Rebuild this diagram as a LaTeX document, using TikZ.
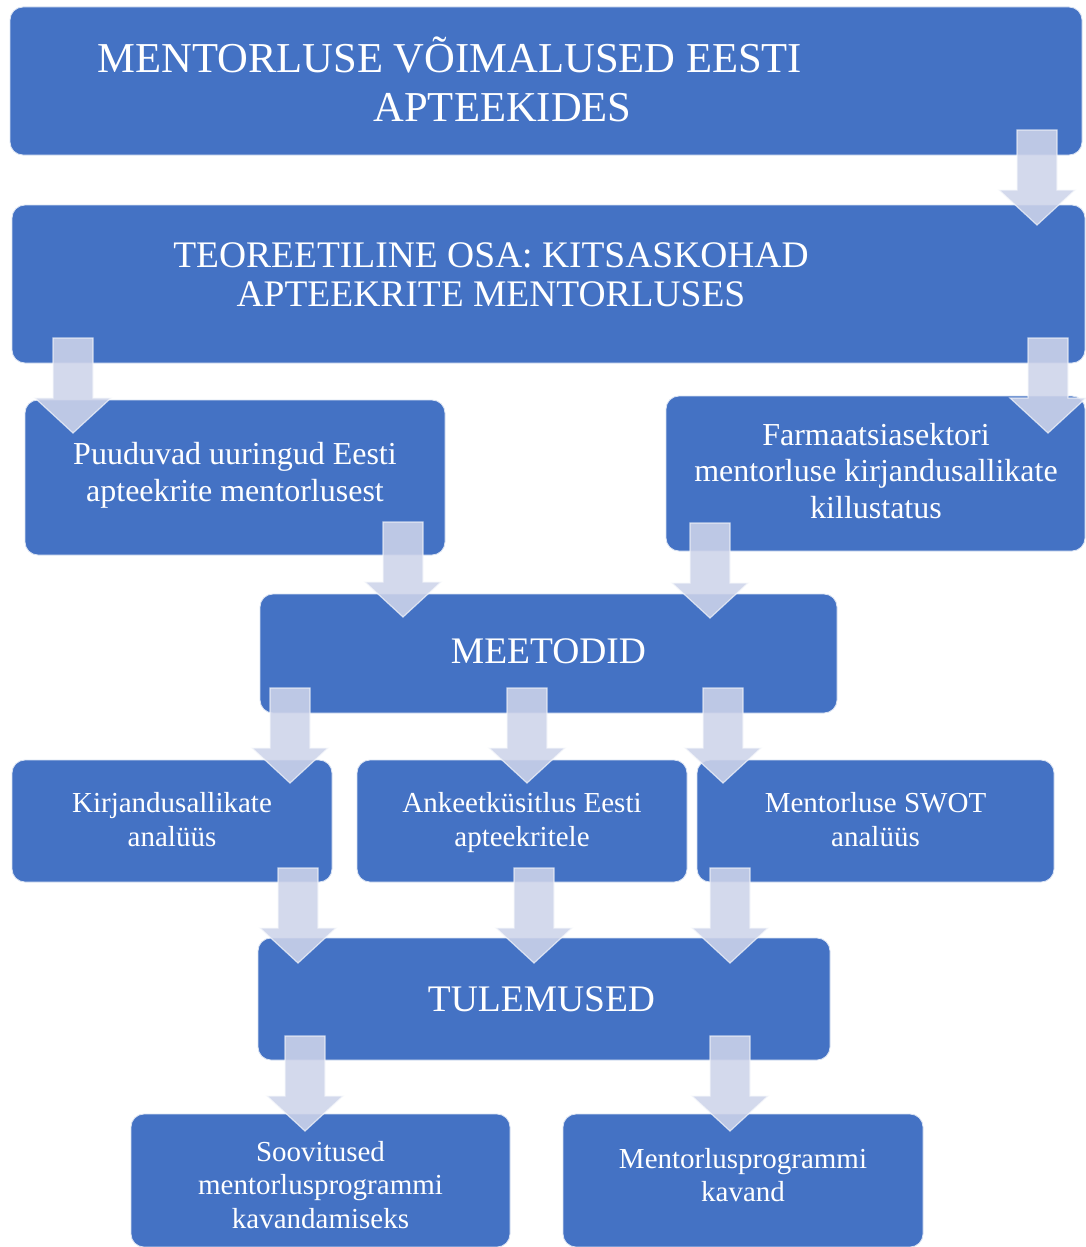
\documentclass[tikz,border=0pt]{standalone}
\usepackage{fontspec}
\setmainfont{Liberation Serif}
\definecolor{boxblue}{RGB}{68,114,196}
\definecolor{arrowfill}{RGB}{206,212,234}
\newcommand{\boxlines}[1]{\begin{tabular}[t]{@{}c@{}}#1\end{tabular}}
\tikzset{
  blk/.style={draw=white!80!boxblue, line width=0.8pt, fill=boxblue, rounded corners=13pt, inner sep=0pt, outer sep=0pt},
  txt/.style={text=white, inner sep=0pt, anchor=base},
  arrowstyle/.style={fill=arrowfill, fill opacity=0.88, draw=white!85!arrowfill, draw opacity=0.7, line width=1.2pt},
  darrow/.pic={\path[arrowstyle] (-20,0) -- (20,0) -- (20,60) -- (38,60) -- (0,95) -- (-38,60) -- (-20,60) -- cycle;}
}
\begin{document}
\begin{tikzpicture}[x=1pt,y=-1pt]
\useasboundingbox (0,0) rectangle (1086,1247);
\fill[white] (0,0) rectangle (1086,1247);
% boxes
\node[blk, minimum width=1072pt, minimum height=148pt] (b1) at (546,81) {};
\node[blk, minimum width=1073pt, minimum height=158pt] (b2) at (548.5,284) {};
\node[blk, minimum width=420pt, minimum height=155pt] (b3) at (235,477.5) {};
\node[blk, minimum width=419pt, minimum height=155pt] (b4) at (875.5,473.5) {};
\node[blk, minimum width=577pt, minimum height=119pt] (b5) at (548.5,653.5) {};
\node[blk, minimum width=320pt, minimum height=122pt] (b6) at (172,821) {};
\node[blk, minimum width=330pt, minimum height=122pt] (b7) at (522,821) {};
\node[blk, minimum width=357pt, minimum height=122pt] (b8) at (875.5,821) {};
\node[blk, minimum width=572pt, minimum height=122pt] (b9) at (544,999) {};
\node[blk, minimum width=379pt, minimum height=133pt] (b10) at (320.5,1180.5) {};
\node[blk, minimum width=360pt, minimum height=133pt] (b11) at (743,1180.5) {};
% texts
\node[txt, font=\fontsize{42.6}{49}\selectfont] (t1a) at (450,72) {MENTORLUSE VÕIMALUSED EESTI};
\node[txt, font=\fontsize{42.6}{49}\selectfont] (t1b) at (502.5,121) {APTEEKIDES};
\node[txt, font=\fontsize{37.5}{39}\selectfont] (t2) at (491,267) {\boxlines{TEOREETILINE OSA: KITSASKOHAD\\APTEEKRITE MENTORLUSES}};
\node[txt, font=\fontsize{32}{37}\selectfont] (t3) at (235,464) {\boxlines{Puuduvad uuringud Eesti\\apteekrite mentorlusest}};
\node[txt, font=\fontsize{32}{36.5}\selectfont] (t4) at (876,445) {\boxlines{Farmaatsiasektori\\mentorluse kirjandusallikate\\killustatus}};
\node[txt, font=\fontsize{37.5}{43}\selectfont] (t5) at (548.5,663) {MEETODID};
\node[txt, font=\fontsize{29}{34}\selectfont] (t6) at (172,812) {\boxlines{Kirjandusallikate\\analüüs}};
\node[txt, font=\fontsize{29}{34}\selectfont] (t7) at (522,812) {\boxlines{Ankeetküsitlus Eesti\\apteekritele}};
\node[txt, font=\fontsize{29}{34}\selectfont] (t8) at (875.5,812) {\boxlines{Mentorluse SWOT\\analüüs}};
\node[txt, font=\fontsize{37.5}{43}\selectfont] (t9) at (541.5,1011) {TULEMUSED};
\node[txt, font=\fontsize{29}{33.5}\selectfont] (t10) at (320.5,1161) {\boxlines{Soovitused\\mentorlusprogrammi\\kavandamiseks}};
\node[txt, font=\fontsize{29}{33.5}\selectfont] (t11) at (743,1168) {\boxlines{Mentorlusprogrammi\\kavand}};
% block arrows
\pic (a1) at (1037,130) {darrow};
\pic (a2) at (73,338) {darrow};
\pic (a3) at (1048,338) {darrow};
\pic (a4) at (403,522) {darrow};
\pic (a5) at (710,523) {darrow};
\pic (a6) at (290,688) {darrow};
\pic (a7) at (527,688) {darrow};
\pic (a8) at (723,688) {darrow};
\pic (a9) at (298,868) {darrow};
\pic (a10) at (534,868) {darrow};
\pic (a11) at (730,868) {darrow};
\pic (a12) at (305,1036) {darrow};
\pic (a13) at (730,1036) {darrow};
\end{tikzpicture}
\end{document}
